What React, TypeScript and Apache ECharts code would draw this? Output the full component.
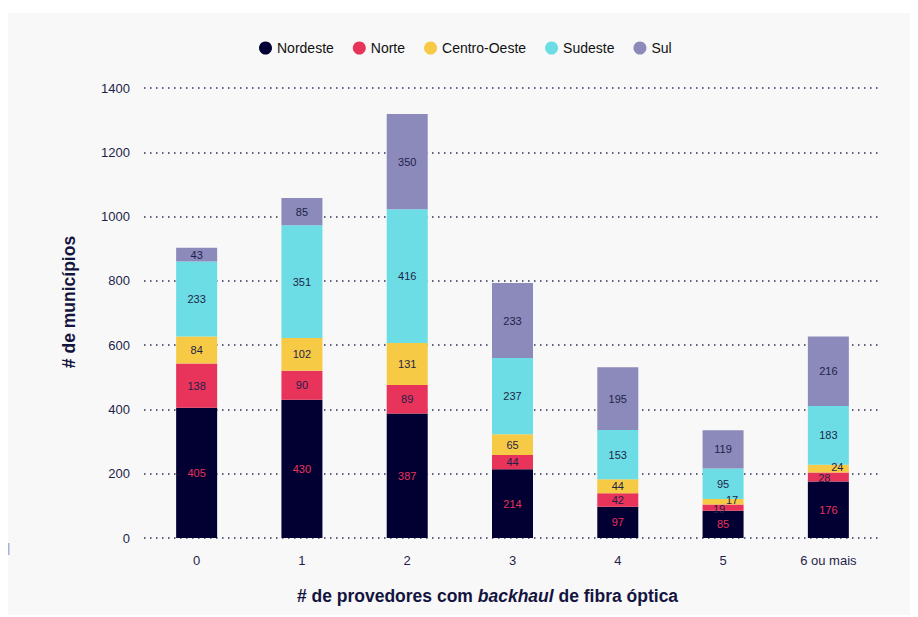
import React, { useEffect, useRef } from "react";
import * as echarts from "echarts";

const categories = ["0", "1", "2", "3", "4", "5", "6 ou mais"];
const nordeste = [405, 430, 387, 214, 97, 85, 176];
const norte = [138, 90, 89, 44, 42, 19, 28];
const centroOeste = [84, 102, 131, 65, 44, 17, 24];
const sudeste = [233, 351, 416, 237, 153, 95, 183];
// Sul: heights as drawn in the picture; printed labels below
const sul = [43, 85, 296, 233, 195, 119, 216];
const sulLabels = [43, 85, 350, 233, 195, 119, 216];
const yTicks = [0, 200, 400, 600, 800, 1000, 1200, 1400];

const FONT = "Liberation Sans, Arial, sans-serif";
const DARK = "#1f1f4a";

export default function App() {
  const ref = useRef<HTMLDivElement>(null);
  useEffect(() => {
    if (!ref.current) return;
    const chart = echarts.init(ref.current, null, { renderer: "svg" });
    const mk = (
      name: string,
      data: number[],
      color: string,
      labelColor: string,
      labels?: number[],
      shift?: { dx: number; dy: number }
    ) => ({
      name,
      type: "bar",
      stack: "total",
      barWidth: 41,
      data,
      itemStyle: { color },
      label: {
        show: true,
        position: "inside",
        color: labelColor,
        fontSize: 11,
        fontFamily: FONT,
        formatter: (p: any) => String(labels ? labels[p.dataIndex] : p.value),
      },
      labelLayout: shift
        ? (p: any) => (p.rect && p.rect.height < 11 ? { dx: shift.dx, dy: shift.dy } : {})
        : undefined,
    });
    chart.setOption({
      animation: false,
      backgroundColor: "#f8f8f8",
      textStyle: { fontFamily: FONT },
      legend: {
        top: 23,
        left: 246,
        icon: "circle",
        itemWidth: 13,
        itemHeight: 13,
        itemGap: 19,
        textStyle: { color: "#111", fontSize: 14, fontFamily: FONT },
        data: ["Nordeste", "Norte", "Centro-Oeste", "Sudeste", "Sul"],
      },
      graphic: [
        { type: "rect", left: 0, top: 530, shape: { width: 1.5, height: 12 }, style: { fill: "#9fb4d8" } },
      ],
      grid: { left: 136, right: 29, top: 75, bottom: 77, containLabel: false },
      xAxis: {
        type: "category",
        data: categories,
        axisLine: { show: false },
        axisTick: { show: false },
        axisLabel: { color: DARK, fontSize: 13, margin: 16, fontFamily: FONT },
        name: "{b|# de provedores com }{i|backhaul}{b| de fibra óptica}",
        nameLocation: "middle",
        nameGap: 49,
        nameTextStyle: {
          padding: [0, 50, 0, 0],
          rich: {
            b: { fontSize: 17.5, fontWeight: "bold", color: "#141440", fontFamily: FONT },
            i: { fontSize: 17.5, fontWeight: "bold", fontStyle: "italic", color: "#141440", fontFamily: FONT },
          },
        },
      },
      yAxis: {
        type: "value",
        min: yTicks[0],
        max: yTicks[yTicks.length - 1],
        interval: 200,
        axisLine: { show: false },
        axisTick: { show: false },
        axisLabel: {
          color: DARK,
          fontSize: 13,
          margin: 14,
          fontFamily: FONT,
          formatter: (v: number) => String(v),
        },
        splitLine: {
          show: true,
          lineStyle: { color: "#2c2c5a", width: 1.5, type: [1.5, 4.5] },
        },
        name: "# de municípios",
        nameLocation: "middle",
        nameGap: 66,
        nameTextStyle: {
          fontSize: 17.5,
          fontWeight: "bold",
          color: "#141440",
          fontFamily: FONT,
          padding: [0, 0, 0, 22],
        },
      },
      series: [
        mk("Nordeste", nordeste, "#020032", "#e8335a"),
        mk("Norte", norte, "#e8335a", DARK, undefined, { dx: -4, dy: 1 }),
        mk("Centro-Oeste", centroOeste, "#f6ca45", DARK, undefined, { dx: 9, dy: -2 }),
        mk("Sudeste", sudeste, "#6cdde4", DARK),
        mk("Sul", sul, "#8b8aba", DARK, sulLabels),
      ],
    });
    return () => chart.dispose();
  }, []);
  return (
    <div
      ref={ref}
      style={{ position: "absolute", left: 8, top: 13, width: 902, height: 602 }}
    />
  );
}
